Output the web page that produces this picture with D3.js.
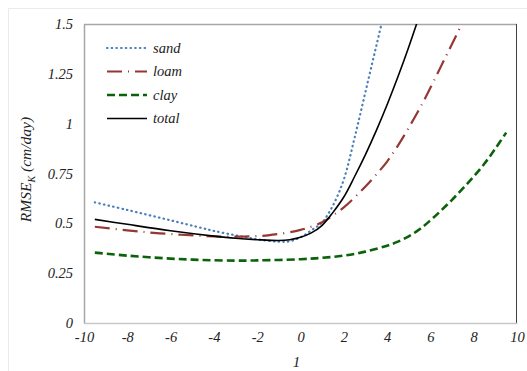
<!DOCTYPE html>
<html>
<head>
<meta charset="utf-8">
<script src="https://cdn.jsdelivr.net/npm/d3@7"></script>
<style>
  body { margin: 0; background: #fff; }
  text { font-family: "Liberation Serif", "Times New Roman", serif; font-style: italic; }
</style>
</head>
<body>
<div id="chart"></div>
<script>
const width = 527
const height = 371

// curve data
const sandX =  [-9.5, -8, -6, -4.5, -4, -3, -2, -1, -0.5, 0, 0.5, 1, 1.5, 2, 2.5, 3, 3.5, 4]
const sandY =  [0.605, 0.567, 0.515, 0.475, 0.462, 0.44, 0.42, 0.408, 0.41, 0.43, 0.465, 0.505, 0.59, 0.72, 0.93, 1.16, 1.39, 1.62]

const loamX =  [-9.5, -8, -6.5, -4.5, -3, -1.5, 0, 1, 1.5, 2, 2.5, 3, 3.5, 4, 4.5, 5, 5.5, 6, 6.5, 7, 7.5]
const loamY =  [0.483, 0.465, 0.45, 0.437, 0.433, 0.44, 0.467, 0.505, 0.54, 0.58, 0.63, 0.685, 0.745, 0.81, 0.89, 0.98, 1.075, 1.18, 1.29, 1.40, 1.51]

const clayX =  [-9.5, -8, -6, -4.5, -3, -2, 0, 1, 2, 3, 4, 4.5, 5, 5.5, 6, 6.5, 7, 7.5, 8, 8.5, 9, 9.5]
const clayY =  [0.353, 0.338, 0.323, 0.316, 0.313, 0.314, 0.32, 0.327, 0.338, 0.358, 0.388, 0.408, 0.435, 0.47, 0.515, 0.565, 0.618, 0.675, 0.735, 0.80, 0.875, 0.955]

const totalX = [-9.5, -8, -6, -4, -3, -2, -1, -0.5, 0, 0.5, 1, 1.5, 2, 2.5, 3, 3.5, 4, 4.5, 5, 5.5]
const totalY = [0.52, 0.495, 0.463, 0.436, 0.425, 0.418, 0.414, 0.418, 0.43, 0.452, 0.49, 0.555, 0.632, 0.735, 0.845, 0.965, 1.095, 1.235, 1.385, 1.545]

const xTicks = [-10, -8, -6, -4, -2, 0, 2, 4, 6, 8, 10]
const yTicks = [0, 0.25, 0.5, 0.75, 1, 1.25, 1.5]

const series = [
    {name: 'sand',  xs: sandX,  ys: sandY,  color: '#4a7ebb', width: 2.2, dash: '0.5,4.2', cap: 'round'},
    {name: 'loam',  xs: loamX,  ys: loamY,  color: '#953735', width: 2.2, dash: '15,6,1,6', cap: 'butt'},
    {name: 'clay',  xs: clayX,  ys: clayY,  color: '#0a620a', width: 2.6, dash: '8,4', cap: 'butt'},
    {name: 'total', xs: totalX, ys: totalY, color: '#000000', width: 1.6, dash: null, cap: 'butt'}
]

const margin = {left: 84, right: 10, top: 24, bottom: 48}

let svg = d3.select('#chart')
    .append('svg')
    .attr('width', width)
    .attr('height', height)

// faint outer frame
svg.append('rect')
    .attr('x', 8.5).attr('y', 8.5)
    .attr('width', width - 8).attr('height', height - 8)
    .attr('fill', 'none')
    .attr('stroke', '#ebebeb')

let x = d3.scaleLinear().domain([-10, 10]).range([margin.left, width - margin.right])
let y = d3.scaleLinear().domain([0, 1.5]).range([height - margin.bottom, margin.top])

svg.append('defs').append('clipPath').attr('id', 'clip')
    .append('rect')
    .attr('x', x(-10)).attr('y', y(1.5))
    .attr('width', x(10) - x(-10)).attr('height', y(0) - y(1.5))

// plot frame: grey left/bottom/top, dark right
svg.append('line')
    .attr('x1', x(-10)).attr('x2', x(10)).attr('y1', y(1.5) + 0.5).attr('y2', y(1.5) + 0.5)
    .attr('stroke', '#a6a6a6').attr('stroke-width', 1.5)
svg.append('line')
    .attr('x1', x(10) - 0.5).attr('x2', x(10) - 0.5).attr('y1', y(1.5)).attr('y2', y(0))
    .attr('stroke', '#404040').attr('stroke-width', 1)

let tickFont = sel => sel.attr('font-size', 14.5).attr('fill', '#222')
    .style('font-family', '"Liberation Serif", "Times New Roman", serif').style('font-style', 'italic')

let xAxis = svg.append('g')
    .attr('transform', `translate(0,${y(0)})`)
    .call(d3.axisBottom(x).tickValues(xTicks).tickSize(0).tickPadding(9).tickFormat(d => String(d)))
xAxis.select('.domain').attr('stroke', '#c8c8c8').attr('stroke-width', 1.5)
xAxis.selectAll('text').call(tickFont)

let yAxis = svg.append('g')
    .attr('transform', `translate(${x(-10)},0)`)
    .call(d3.axisLeft(y).tickValues(yTicks).tickSize(0).tickPadding(11).tickFormat(d => String(d)))
yAxis.select('.domain').attr('stroke', '#a6a6a6').attr('stroke-width', 1.5)
yAxis.selectAll('text').call(tickFont)

// axis titles
svg.append('text')
    .attr('x', (x(-10) + x(10)) / 2 - 4)
    .attr('y', 367)
    .attr('text-anchor', 'middle')
    .attr('font-size', 15)
    .attr('fill', '#222')
    .text('1')

let yTitle = svg.append('text')
    .attr('transform', `translate(31,${(y(0) + y(1.5)) / 2 - 4}) rotate(-90)`)
    .attr('text-anchor', 'middle')
    .attr('font-size', 15.5)
    .attr('fill', '#222')
yTitle.append('tspan').text('RMSE')
yTitle.append('tspan').attr('font-size', 10).attr('dy', 4).text('K')
yTitle.append('tspan').attr('dy', -4).text(' (cm/day)')

let line = d3.line()
    .x(d => x(d[0]))
    .y(d => y(d[1]))
    .curve(d3.curveCatmullRom.alpha(0.5))

let plot = svg.append('g').attr('clip-path', 'url(#clip)')

plot.selectAll('path')
    .data(series)
    .join('path')
    .attr('d', s => line(s.xs.map((v, i) => [v, s.ys[i]])))
    .attr('fill', 'none')
    .attr('stroke', s => s.color)
    .attr('stroke-width', s => s.width)
    .attr('stroke-dasharray', s => s.dash)
    .attr('stroke-linecap', s => s.cap)

// legend
let legend = svg.append('g')
    .selectAll('g')
    .data(series)
    .join('g')
    .attr('transform', (d, i) => `translate(107,${48 + i * 23.5})`)

legend.append('line')
    .attr('x1', 0).attr('x2', 40)
    .attr('stroke', s => s.color)
    .attr('stroke-width', s => s.width)
    .attr('stroke-dasharray', s => s.dash)
    .attr('stroke-linecap', s => s.cap)

legend.append('text')
    .attr('x', 46)
    .attr('y', 4.5)
    .attr('font-size', 14.5)
    .attr('fill', '#222')
    .text(s => s.name)
</script>
</body>
</html>
